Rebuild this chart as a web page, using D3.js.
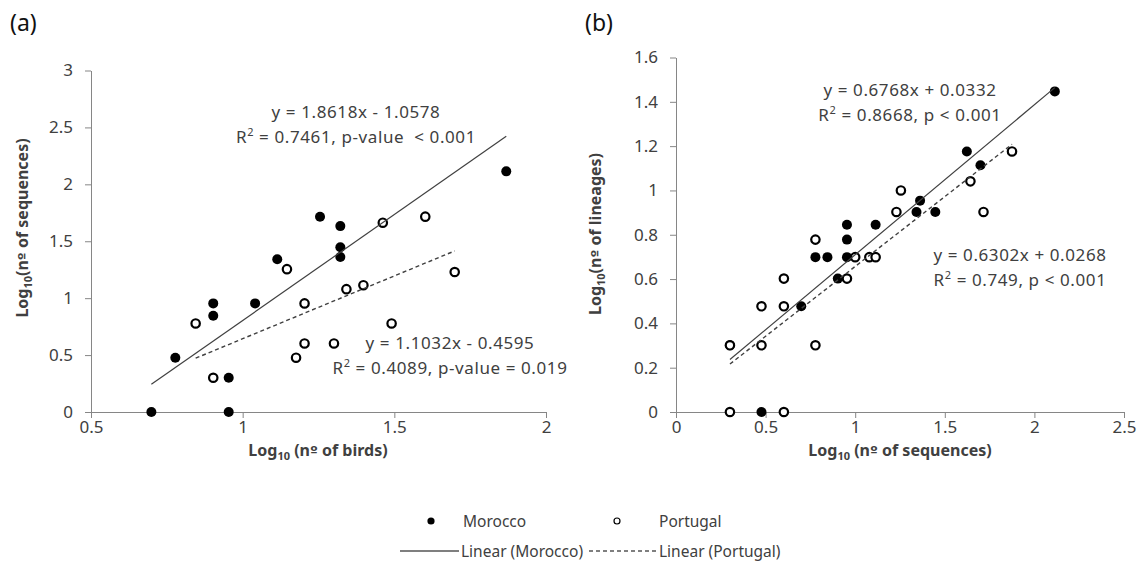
<!DOCTYPE html>
<html>
<head>
<meta charset="utf-8">
<script src="https://cdn.jsdelivr.net/npm/d3@7"></script>
<style>
  body { margin: 0; background: #fff; }
  text { font-family: "Noto Sans", "Open Sans", sans-serif; fill: #404040; white-space: pre; }
  .axis path, .axis line { stroke: #868686; }
  .axis text { font-size: 17px; fill: #404040; }
  .ord { font-family: "DejaVu Sans", sans-serif; }
</style>
</head>
<body>
<div class="canvas"></div>
<script>
// panel (a): log10(birds) vs log10(sequences)
const aMoroccoX = [0.699, 0.778, 0.903, 0.903, 0.954, 0.954, 1.041, 1.114, 1.255, 1.322, 1.322, 1.322, 1.869];
const aMoroccoY = [0, 0.477, 0.954, 0.845, 0.301, 0, 0.954, 1.342, 1.716, 1.633, 1.447, 1.362, 2.114];
const aPortugalX = [0.845, 0.903, 1.146, 1.176, 1.204, 1.204, 1.301, 1.342, 1.398, 1.462, 1.491, 1.602, 1.699];
const aPortugalY = [0.778, 0.301, 1.255, 0.477, 0.602, 0.954, 0.602, 1.079, 1.114, 1.663, 0.778, 1.716, 1.230];
const aMoroccoFit = [1.8618, -1.0578];
const aPortugalFit = [1.1032, -0.4595];
const aXTicks = [0.5, 1, 1.5, 2];
const aYTicks = [0, 0.5, 1, 1.5, 2, 2.5, 3];

// panel (b): log10(sequences) vs log10(lineages)
const bMoroccoX = [0.301, 0.477, 0.699, 0.778, 0.845, 0.903, 0.954, 0.954, 0.954, 1.114, 1.342, 1.362, 1.447, 1.623, 1.699, 2.114];
const bMoroccoY = [0.301, 0, 0.477, 0.699, 0.699, 0.602, 0.699, 0.778, 0.845, 0.845, 0.903, 0.954, 0.903, 1.176, 1.114, 1.447];
const bPortugalX = [0.301, 0.301, 0.477, 0.477, 0.602, 0.602, 0.602, 0.778, 0.778, 0.954, 1.0, 1.079, 1.114, 1.230, 1.255, 1.643, 1.716, 1.875];
const bPortugalY = [0, 0.301, 0.301, 0.477, 0, 0.477, 0.602, 0.301, 0.778, 0.602, 0.699, 0.699, 0.699, 0.903, 1.0, 1.041, 0.903, 1.176];
const bMoroccoFit = [0.6768, 0.0332];
const bPortugalFit = [0.6302, 0.0268];
const bXTicks = [0, 0.5, 1, 1.5, 2, 2.5];
const bYTicks = [0, 0.2, 0.4, 0.6, 0.8, 1, 1.2, 1.4, 1.6];

const svg = d3.select('.canvas')
    .append('svg')
    .attr('width', 1141)
    .attr('height', 574);

const zip = (xs, ys) => xs.map((x, i) => ({x: x, y: ys[i]}));
const fmt = d => String(+d.toFixed(1));

// "Log10 (nº of ...)" title with subscript and ordinal sign
const logTitle = (t, rest) => {
    t.append('tspan').text('Log');
    t.append('tspan').attr('font-size', 11).attr('dy', 4).text('10');
    t.append('tspan').attr('dy', -4).text(rest[0]);
    t.append('tspan').attr('class', 'ord').attr('font-size', 14).text('º');
    t.append('tspan').text(rest[1]);
};

// draws one scatter panel with its axes, trendlines and equation labels
const drawPanel = (p) => {
    const x = d3.scaleLinear().domain(p.xDomain).range(p.xRange);
    const y = d3.scaleLinear().domain(p.yDomain).range(p.yRange);
    const g = svg.append('g');

    g.append('g')
        .attr('class', 'axis')
        .attr('transform', `translate(0,${p.yRange[0]})`)
        .call(d3.axisBottom(x).tickValues(p.xTicks).tickFormat(fmt).tickSize(6).tickSizeOuter(0).tickPadding(3))
        .call(a => a.selectAll('text').attr('font-family', null));

    g.append('g')
        .attr('class', 'axis')
        .attr('transform', `translate(${p.xRange[0]},0)`)
        .call(d3.axisLeft(y).tickValues(p.yTicks).tickFormat(fmt).tickSize(6).tickSizeOuter(0).tickPadding(12))
        .call(a => a.selectAll('text').attr('font-family', null));

    // trendlines over each series' x extent
    const trend = (pts, fit, dash) => {
        const ext = d3.extent(pts, d => d.x);
        g.append('line')
            .attr('x1', x(ext[0])).attr('y1', y(fit[0] * ext[0] + fit[1]))
            .attr('x2', x(ext[1])).attr('y2', y(fit[0] * ext[1] + fit[1]))
            .attr('stroke', '#404040')
            .attr('stroke-width', dash ? 1.4 : 1.2)
            .attr('stroke-dasharray', dash ? '4,3' : null);
    };

    const mor = zip(p.morX, p.morY);
    const por = zip(p.porX, p.porY);

    g.selectAll('circle.mor')
        .data(mor)
        .enter().append('circle')
            .attr('class', 'mor')
            .attr('cx', d => x(d.x))
            .attr('cy', d => y(d.y))
            .attr('r', 5)
            .attr('fill', '#000');

    g.selectAll('circle.por')
        .data(por)
        .enter().append('circle')
            .attr('class', 'por')
            .attr('cx', d => x(d.x))
            .attr('cy', d => y(d.y))
            .attr('r', 4.2)
            .attr('fill', '#fff')
            .attr('stroke', '#000')
            .attr('stroke-width', 2.2);

    trend(mor, p.morFit, false);
    trend(por, p.porFit, true);

    // equation labels (centred, two lines)
    p.labels.forEach(l => {
        const t = g.append('text')
            .attr('text-anchor', 'middle')
            .attr('font-size', 17)
            .attr('letter-spacing', 0.6)
            .attr('x', l.x).attr('y', l.y);
        t.append('tspan').attr('x', l.x).text(l.eq);
        const t2 = t.append('tspan').attr('x', l.x).attr('dy', 25);
        t2.append('tspan').text('R');
        t2.append('tspan').attr('font-size', 11).attr('dy', -7).text('2');
        t2.append('tspan').attr('dy', 7).text(l.r2);
    });

    // axis titles
    const xt = g.append('text')
        .attr('text-anchor', 'middle')
        .attr('font-weight', 'bold')
        .attr('font-size', 16)
        .attr('x', p.xTitleX).attr('y', 456);
    logTitle(xt, p.xTitle);

    const yt = g.append('text')
        .attr('text-anchor', 'middle')
        .attr('font-weight', 'bold')
        .attr('font-size', 16)
        .attr('transform', `translate(${p.yTitleX},${p.yTitleY}) rotate(-90)`);
    logTitle(yt, p.yTitle);

    svg.append('text')
        .attr('x', p.tagX).attr('y', 31)
        .attr('font-size', 23)
        .style('fill', '#111')
        .text(p.tag);
};

drawPanel({
    tag: '(a)', tagX: 10,
    xDomain: [0.5, 2], xRange: [91, 546],
    yDomain: [0, 3], yRange: [412, 70.5],
    xTicks: aXTicks, yTicks: aYTicks,
    morX: aMoroccoX, morY: aMoroccoY, porX: aPortugalX, porY: aPortugalY,
    morFit: aMoroccoFit, porFit: aPortugalFit,
    labels: [
        {x: 356, y: 118, eq: 'y = 1.8618x - 1.0578', r2: ' = 0.7461, p-value  < 0.001'},
        {x: 450, y: 349, eq: 'y = 1.1032x - 0.4595', r2: ' = 0.4089, p-value = 0.019'}
    ],
    xTitle: [' (n', ' of birds)'], xTitleX: 318,
    yTitle: ['(n', ' of sequences)'], yTitleX: 28, yTitleY: 228
});

drawPanel({
    tag: '(b)', tagX: 585,
    xDomain: [0, 2.5], xRange: [676, 1124],
    yDomain: [0, 1.6], yRange: [412, 57.5],
    xTicks: bXTicks, yTicks: bYTicks,
    morX: bMoroccoX, morY: bMoroccoY, porX: bPortugalX, porY: bPortugalY,
    morFit: bMoroccoFit, porFit: bPortugalFit,
    labels: [
        {x: 910, y: 96, eq: 'y = 0.6768x + 0.0332', r2: ' = 0.8668, p < 0.001'},
        {x: 1020, y: 261, eq: 'y = 0.6302x + 0.0268', r2: ' = 0.749, p < 0.001'}
    ],
    xTitle: [' (n', ' of sequences)'], xTitleX: 900,
    yTitle: ['(n', ' of lineages)'], yTitleX: 601, yTitleY: 234
});

// legend
const legend = svg.append('g').attr('font-size', 15.5);
legend.append('circle').attr('cx', 431).attr('cy', 521).attr('r', 3.6).attr('fill', '#000');
legend.append('text').attr('x', 463).attr('y', 527).text('Morocco');
legend.append('circle').attr('cx', 617).attr('cy', 521).attr('r', 3).attr('fill', '#fff').attr('stroke', '#000').attr('stroke-width', 1.2);
legend.append('text').attr('x', 659).attr('y', 527).text('Portugal');
legend.append('line').attr('x1', 400).attr('x2', 459).attr('y1', 551).attr('y2', 551).attr('stroke', '#000').attr('stroke-width', 1.2);
legend.append('text').attr('x', 461).attr('y', 557).text('Linear (Morocco)');
legend.append('line').attr('x1', 589).attr('x2', 656).attr('y1', 551).attr('y2', 551).attr('stroke', '#000').attr('stroke-width', 1.2).attr('stroke-dasharray', '4,3');
legend.append('text').attr('x', 659).attr('y', 557).text('Linear (Portugal)');
</script>
</body>
</html>
